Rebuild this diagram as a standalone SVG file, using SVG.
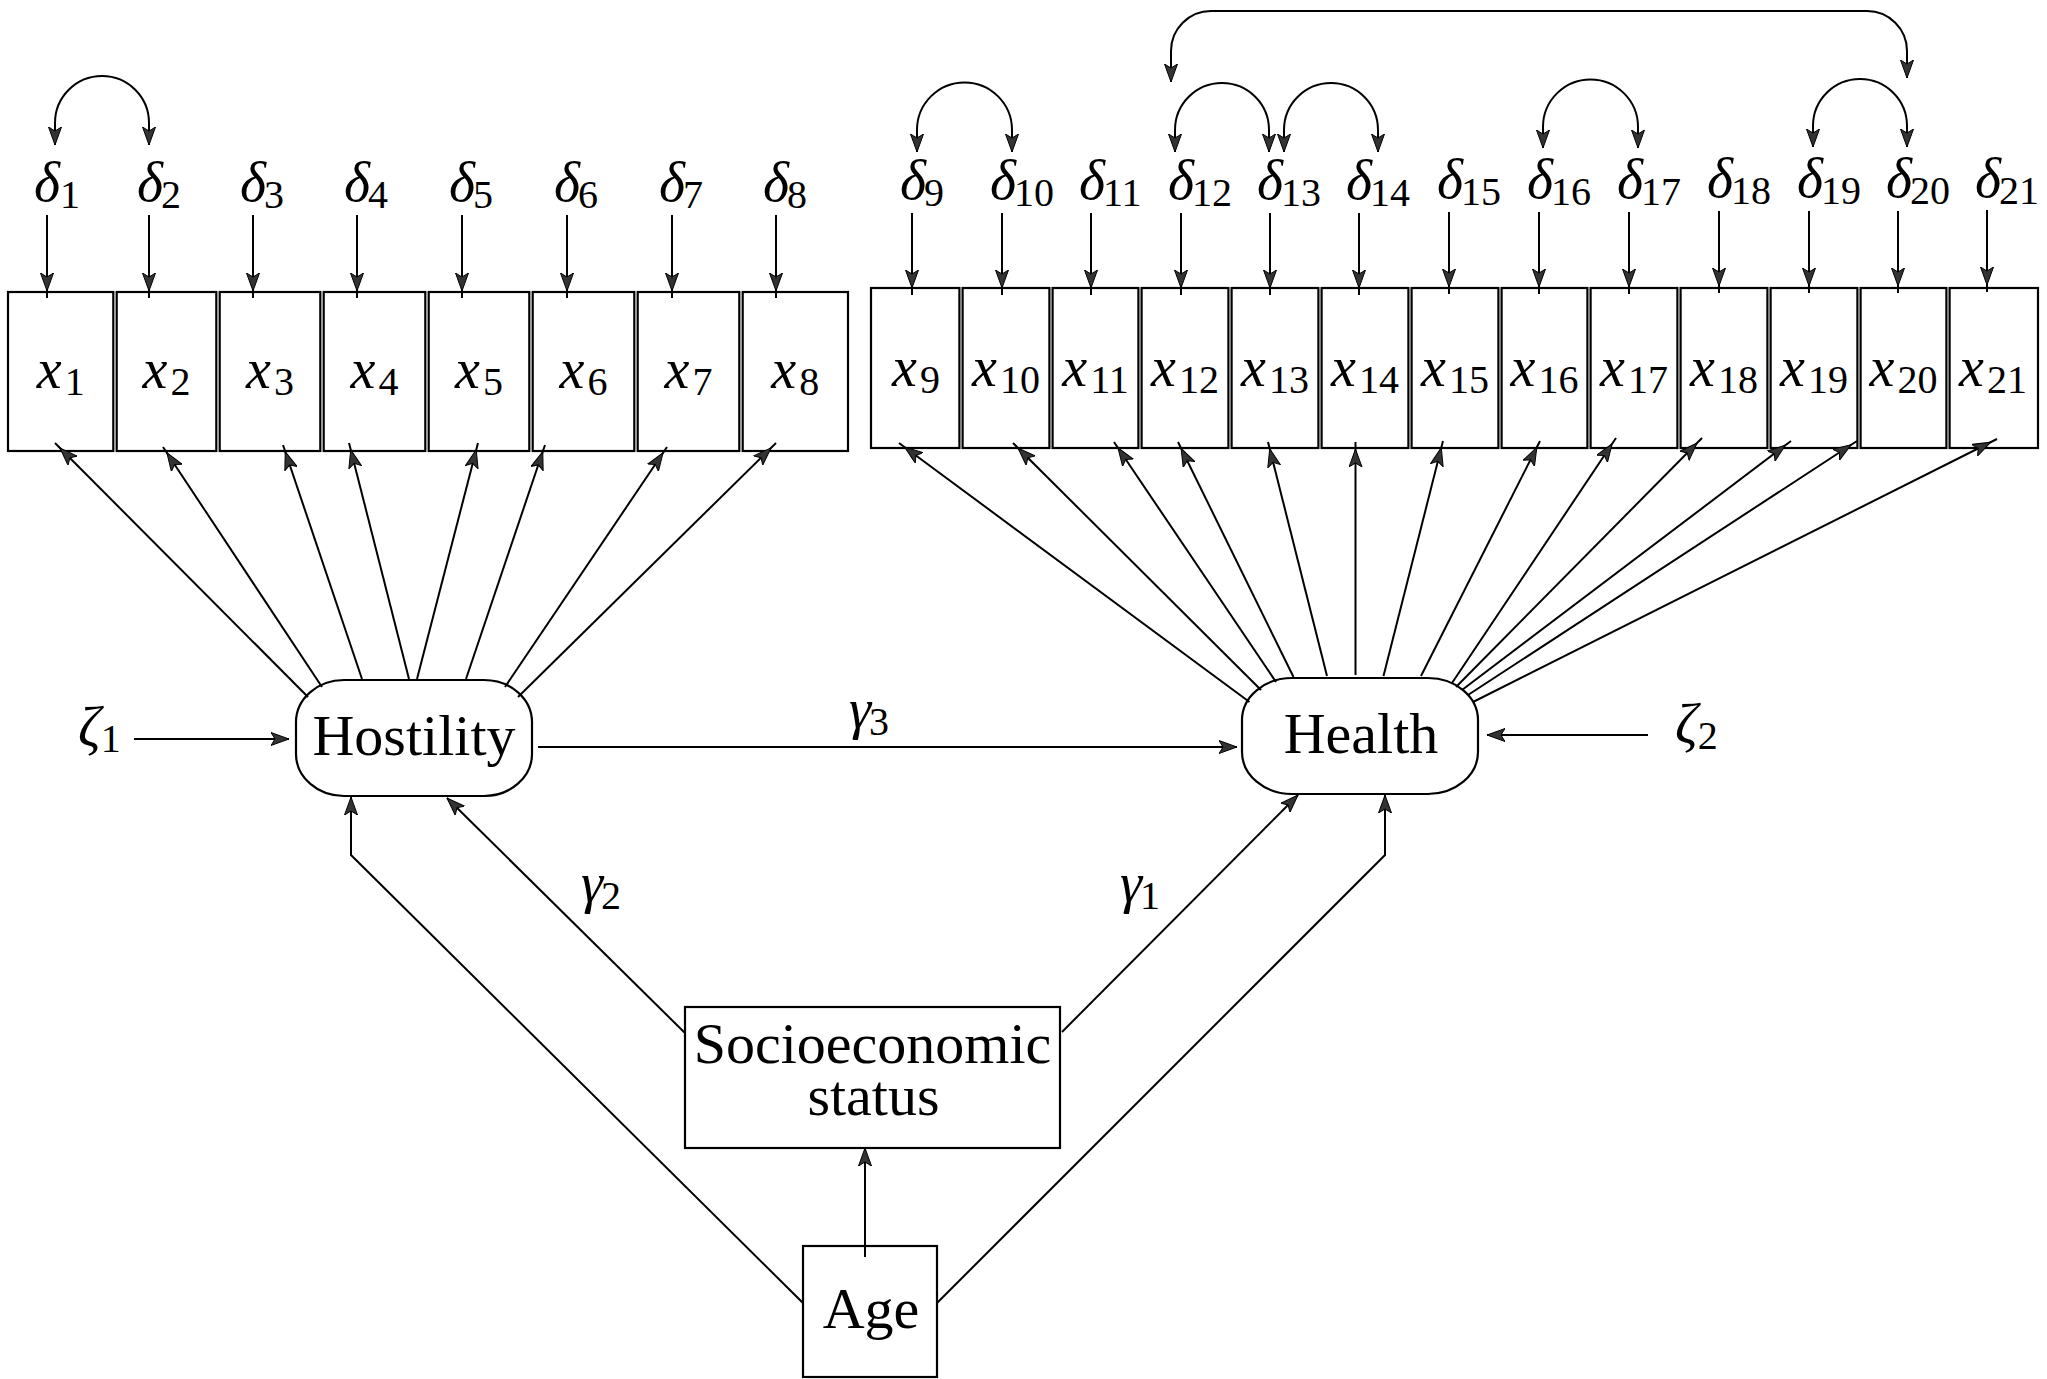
<svg xmlns="http://www.w3.org/2000/svg" width="2047" height="1379" viewBox="0 0 2047 1379">
<style>
.t{font-family:"Liberation Serif",serif;fill:#000}
.m{font-family:"Liberation Serif",serif;font-style:italic;font-size:56px;fill:#000}
.sub{font-style:normal;font-size:40px}
.lab{font-family:"Liberation Serif",serif;font-size:58px;fill:#000}
.box{fill:#fff;stroke:#000;stroke-width:2.2}
.c{fill:none;stroke:#000;stroke-width:2}
</style>
<defs>
<marker id="ah" viewBox="0 0 18 14" refX="18" refY="7" markerWidth="18" markerHeight="14" markerUnits="userSpaceOnUse" orient="auto-start-reverse"><path d="M0,0.5 L18,7 L0,13.5 L4,7 Z" fill="#333" stroke="#000" stroke-width="1"/></marker>
<marker id="ahx" viewBox="0 0 18 14" refX="25" refY="7" markerWidth="18" markerHeight="14" markerUnits="userSpaceOnUse" orient="auto"><path d="M0,0.5 L18,7 L0,13.5 L4,7 Z" fill="#333" stroke="#000" stroke-width="1"/></marker>
</defs>
<rect x="0" y="0" width="2047" height="1379" fill="#fff"/>

<!-- Left indicator boxes -->
<g id="x1"><rect class="box" x="8" y="292" width="105.3" height="159"/><text class="m" x="60.7" y="388" text-anchor="middle">x<tspan class="sub" dy="7" dx="3">1</tspan></text></g>
<g id="x2"><rect class="box" x="116.7" y="292" width="99.6" height="159"/><text class="m" x="166.5" y="388" text-anchor="middle">x<tspan class="sub" dy="7" dx="3">2</tspan></text></g>
<g id="x3"><rect class="box" x="219.7" y="292" width="100.6" height="159"/><text class="m" x="270" y="388" text-anchor="middle">x<tspan class="sub" dy="7" dx="3">3</tspan></text></g>
<g id="x4"><rect class="box" x="323.7" y="292" width="101.6" height="159"/><text class="m" x="374.5" y="388" text-anchor="middle">x<tspan class="sub" dy="7" dx="3">4</tspan></text></g>
<g id="x5"><rect class="box" x="428.7" y="292" width="100.6" height="159"/><text class="m" x="479" y="388" text-anchor="middle">x<tspan class="sub" dy="7" dx="3">5</tspan></text></g>
<g id="x6"><rect class="box" x="532.7" y="292" width="101.6" height="159"/><text class="m" x="583.5" y="388" text-anchor="middle">x<tspan class="sub" dy="7" dx="3">6</tspan></text></g>
<g id="x7"><rect class="box" x="637.7" y="292" width="101.6" height="159"/><text class="m" x="688.5" y="388" text-anchor="middle">x<tspan class="sub" dy="7" dx="3">7</tspan></text></g>
<g id="x8"><rect class="box" x="742.7" y="292" width="105.3" height="159"/><text class="m" x="795.3" y="388" text-anchor="middle">x<tspan class="sub" dy="7" dx="3">8</tspan></text></g>

<!-- Right indicator boxes -->
<g id="x9"><rect class="box" x="871" y="288" width="88.4" height="160"/><text class="m" x="916" y="386" text-anchor="middle">x<tspan class="sub" dy="7" dx="3">9</tspan></text></g>
<g id="x10"><rect class="box" x="962.6" y="288" width="86.8" height="160"/><text class="m" x="1006" y="386" text-anchor="middle">x<tspan class="sub" dy="7" dx="3">10</tspan></text></g>
<g id="x11"><rect class="box" x="1052.6" y="288" width="85.8" height="160"/><text class="m" x="1095.5" y="386" text-anchor="middle">x<tspan class="sub" dy="7" dx="3">11</tspan></text></g>
<g id="x12"><rect class="box" x="1141.6" y="288" width="86.8" height="160"/><text class="m" x="1185" y="386" text-anchor="middle">x<tspan class="sub" dy="7" dx="3">12</tspan></text></g>
<g id="x13"><rect class="box" x="1231.6" y="288" width="86.8" height="160"/><text class="m" x="1275" y="386" text-anchor="middle">x<tspan class="sub" dy="7" dx="3">13</tspan></text></g>
<g id="x14"><rect class="box" x="1321.6" y="288" width="86.8" height="160"/><text class="m" x="1365" y="386" text-anchor="middle">x<tspan class="sub" dy="7" dx="3">14</tspan></text></g>
<g id="x15"><rect class="box" x="1411.6" y="288" width="86.8" height="160"/><text class="m" x="1455" y="386" text-anchor="middle">x<tspan class="sub" dy="7" dx="3">15</tspan></text></g>
<g id="x16"><rect class="box" x="1501.6" y="288" width="85.8" height="160"/><text class="m" x="1544.5" y="386" text-anchor="middle">x<tspan class="sub" dy="7" dx="3">16</tspan></text></g>
<g id="x17"><rect class="box" x="1590.6" y="288" width="86.8" height="160"/><text class="m" x="1634" y="386" text-anchor="middle">x<tspan class="sub" dy="7" dx="3">17</tspan></text></g>
<g id="x18"><rect class="box" x="1680.6" y="288" width="86.8" height="160"/><text class="m" x="1724" y="386" text-anchor="middle">x<tspan class="sub" dy="7" dx="3">18</tspan></text></g>
<g id="x19"><rect class="box" x="1770.6" y="288" width="86.8" height="160"/><text class="m" x="1814" y="386" text-anchor="middle">x<tspan class="sub" dy="7" dx="3">19</tspan></text></g>
<g id="x20"><rect class="box" x="1860.6" y="288" width="85.8" height="160"/><text class="m" x="1903.5" y="386" text-anchor="middle">x<tspan class="sub" dy="7" dx="3">20</tspan></text></g>
<g id="x21"><rect class="box" x="1949.6" y="288" width="88.4" height="160"/><text class="m" x="1993" y="386" text-anchor="middle">x<tspan class="sub" dy="7" dx="3">21</tspan></text></g>

<!-- Error terms -->
<g id="deltas">
<text class="m" x="34" y="201">δ<tspan class="sub" dy="7">1</tspan></text>
<text class="m" x="137" y="201">δ<tspan class="sub" dy="7" dx="-2">2</tspan></text>
<text class="m" x="240" y="201">δ<tspan class="sub" dy="7" dx="-2">3</tspan></text>
<text class="m" x="344" y="201">δ<tspan class="sub" dy="7" dx="-2">4</tspan></text>
<text class="m" x="449" y="201">δ<tspan class="sub" dy="7" dx="-2">5</tspan></text>
<text class="m" x="554" y="201">δ<tspan class="sub" dy="7" dx="-2">6</tspan></text>
<text class="m" x="659" y="201">δ<tspan class="sub" dy="7" dx="-2">7</tspan></text>
<text class="m" x="763" y="201">δ<tspan class="sub" dy="7" dx="-2">8</tspan></text>
<text class="m" x="900" y="199">δ<tspan class="sub" dy="7" dx="-2">9</tspan></text>
<text class="m" x="990" y="199">δ<tspan class="sub" dy="7" dx="-2">10</tspan></text>
<text class="m" x="1079" y="199">δ<tspan class="sub" dy="7" dx="-2">11</tspan></text>
<text class="m" x="1168" y="199">δ<tspan class="sub" dy="7" dx="-2">12</tspan></text>
<text class="m" x="1257" y="199">δ<tspan class="sub" dy="7" dx="-2">13</tspan></text>
<text class="m" x="1346" y="199">δ<tspan class="sub" dy="7" dx="-2">14</tspan></text>
<text class="m" x="1437" y="198">δ<tspan class="sub" dy="7" dx="-2">15</tspan></text>
<text class="m" x="1527" y="198">δ<tspan class="sub" dy="7" dx="-2">16</tspan></text>
<text class="m" x="1617" y="198">δ<tspan class="sub" dy="7" dx="-2">17</tspan></text>
<text class="m" x="1707" y="197">δ<tspan class="sub" dy="7" dx="-2">18</tspan></text>
<text class="m" x="1797" y="197">δ<tspan class="sub" dy="7" dx="-2">19</tspan></text>
<text class="m" x="1886" y="197">δ<tspan class="sub" dy="7" dx="-2">20</tspan></text>
<text class="m" x="1975" y="197">δ<tspan class="sub" dy="7" dx="-2">21</tspan></text>
</g>
<g id="zeta1"><text class="m" x="78" y="746">ζ<tspan class="sub" dy="6">1</tspan></text></g>
<g id="zeta2"><text class="m" x="1675" y="743">ζ<tspan class="sub" dy="6">2</tspan></text></g>

<!-- Latent variables -->
<g id="hostility"><rect class="box" x="296" y="680" width="236" height="116" rx="48" ry="42"/><text class="lab" x="414" y="755" text-anchor="middle">Hostility</text></g>
<g id="health"><rect class="box" x="1242" y="678" width="236" height="116" rx="50" ry="42"/><text class="lab" x="1361" y="753" text-anchor="middle">Health</text></g>
<g id="ses"><rect class="box" x="685" y="1007" width="375" height="141"/><text class="lab" text-anchor="middle"><tspan x="872.5" y="1063">Socioeconomic</tspan><tspan x="873.5" y="1115">status</tspan></text></g>
<g id="age"><rect class="box" x="803" y="1246" width="134" height="131"/><text class="lab" x="871" y="1328" text-anchor="middle">Age</text></g>

<!-- Connectors -->
<g id="connectors">
<!-- delta -> x -->
<path class="c" marker-end="url(#ahx)" d="M47,215 V298"/>
<path class="c" marker-end="url(#ahx)" d="M149,215 V298"/>
<path class="c" marker-end="url(#ahx)" d="M253,215 V298"/>
<path class="c" marker-end="url(#ahx)" d="M357,215 V298"/>
<path class="c" marker-end="url(#ahx)" d="M462,215 V298"/>
<path class="c" marker-end="url(#ahx)" d="M567,215 V298"/>
<path class="c" marker-end="url(#ahx)" d="M672,215 V298"/>
<path class="c" marker-end="url(#ahx)" d="M776,215 V298"/>
<path class="c" marker-end="url(#ahx)" d="M912,213 V295"/>
<path class="c" marker-end="url(#ahx)" d="M1002,213 V295"/>
<path class="c" marker-end="url(#ahx)" d="M1091,213 V295"/>
<path class="c" marker-end="url(#ahx)" d="M1181,213 V295"/>
<path class="c" marker-end="url(#ahx)" d="M1270,213 V295"/>
<path class="c" marker-end="url(#ahx)" d="M1359,213 V295"/>
<path class="c" marker-end="url(#ahx)" d="M1449,212 V294"/>
<path class="c" marker-end="url(#ahx)" d="M1539,212 V294"/>
<path class="c" marker-end="url(#ahx)" d="M1629,212 V294"/>
<path class="c" marker-end="url(#ahx)" d="M1719,211 V293"/>
<path class="c" marker-end="url(#ahx)" d="M1809,211 V293"/>
<path class="c" marker-end="url(#ahx)" d="M1898,211 V293"/>
<path class="c" marker-end="url(#ahx)" d="M1987,210 V292"/>

<!-- correlations -->
<path class="c" marker-start="url(#ah)" marker-end="url(#ah)" d="M55,145 V123 A47,47 0 0 1 149,123 V145"/>
<path class="c" marker-start="url(#ah)" marker-end="url(#ah)" d="M917,152 V130 A47.5,47.5 0 0 1 1012,130 V152"/>
<path class="c" marker-start="url(#ah)" marker-end="url(#ah)" d="M1175,152 V130 A47,47 0 0 1 1269,130 V152"/>
<path class="c" marker-start="url(#ah)" marker-end="url(#ah)" d="M1284,152 V130 A47,47 0 0 1 1378,130 V152"/>
<path class="c" marker-start="url(#ah)" marker-end="url(#ah)" d="M1543,148 V127 A47.5,47.5 0 0 1 1638,127 V148"/>
<path class="c" marker-start="url(#ah)" marker-end="url(#ah)" d="M1813,147 V126 A47,47 0 0 1 1907,126 V147"/>
<path class="c" marker-start="url(#ah)" marker-end="url(#ah)" d="M1171,82 V51 A40,40 0 0 1 1211,11 H1867 A40,40 0 0 1 1907,51 V78"/>

<!-- Hostility loadings -->
<path class="c" marker-end="url(#ahx)" d="M308,697 L55,443"/>
<path class="c" marker-end="url(#ahx)" d="M322,687 L163,447"/>
<path class="c" marker-end="url(#ahx)" d="M362,679 L283,445"/>
<path class="c" marker-end="url(#ahx)" d="M409,679 L349,443"/>
<path class="c" marker-end="url(#ahx)" d="M417,679 L478,443"/>
<path class="c" marker-end="url(#ahx)" d="M466,679 L545,445"/>
<path class="c" marker-end="url(#ahx)" d="M505,687 L667,447"/>
<path class="c" marker-end="url(#ahx)" d="M518,697 L776,443"/>

<!-- Health loadings -->
<path class="c" marker-end="url(#ahx)" d="M1249.5,702 L899,443"/>
<path class="c" marker-end="url(#ahx)" d="M1261,690 L1013,443"/>
<path class="c" marker-end="url(#ahx)" d="M1276,682 L1114,442"/>
<path class="c" marker-end="url(#ahx)" d="M1293.5,677 L1178,442"/>
<path class="c" marker-end="url(#ahx)" d="M1327,676 L1268,442"/>
<path class="c" marker-end="url(#ahx)" d="M1355.5,675 L1355.5,442"/>
<path class="c" marker-end="url(#ahx)" d="M1383.5,676 L1443,441"/>
<path class="c" marker-end="url(#ahx)" d="M1421,676 L1540,441"/>
<path class="c" marker-end="url(#ahx)" d="M1452,683 L1616,438"/>
<path class="c" marker-end="url(#ahx)" d="M1456,687 L1702,438"/>
<path class="c" marker-end="url(#ahx)" d="M1462,690 L1791,441"/>
<path class="c" marker-end="url(#ahx)" d="M1468,695 L1857,441"/>
<path class="c" marker-end="url(#ahx)" d="M1473,702 L1997,439"/>

<!-- structural paths -->
<path class="c" marker-end="url(#ah)" d="M134,739 H289"/>
<path class="c" marker-end="url(#ah)" d="M1648,735 H1487"/>
<path class="c" marker-end="url(#ah)" d="M538,747 H1237"/>
<path class="c" marker-end="url(#ah)" d="M803,1303 L351,855 V797"/>
<path class="c" marker-end="url(#ah)" d="M937,1303 L1385,855 V795"/>
<path class="c" marker-end="url(#ah)" d="M685,1033 L447,798"/>
<path class="c" marker-end="url(#ah)" d="M1062,1032 L1298,795"/>
<path class="c" marker-end="url(#ah)" d="M865,1257 V1148"/>
</g>

<g id="path-labels">
<text class="m" x="849" y="728">γ<tspan class="sub" dy="7" dx="-2">3</tspan></text>
<text class="m" x="581" y="902">γ<tspan class="sub" dy="7" dx="-2">2</tspan></text>
<text class="m" x="1120" y="902">γ<tspan class="sub" dy="7" dx="-2">1</tspan></text>
</g>
</svg>
